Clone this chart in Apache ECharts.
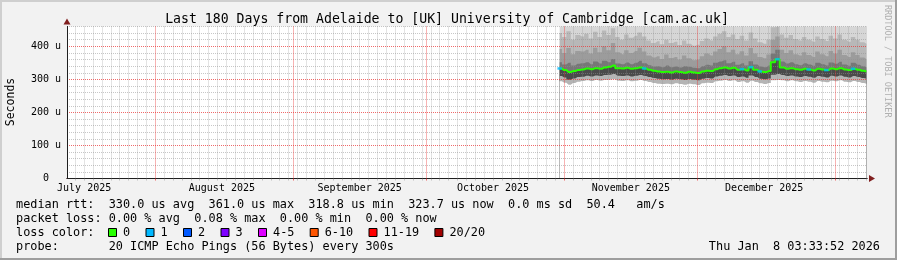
<!DOCTYPE html>
<html><head><meta charset="utf-8">
<script src="https://cdn.jsdelivr.net/npm/echarts@6/dist/echarts.min.js"></script>
<style>html,body{margin:0;padding:0;background:#f2f2f2}#c{width:897px;height:260px}</style>
</head><body><div id="c"></div>
<script>
// ---- axis / tick data (x in days since 2025-07-01 00:00) ----
const axisMin = 11.1485;   // Jul 12 2025 03:33:52
const axisMax = 191.1485;  // Jan 8 2026 03:33:52
const monthStarts = [31, 62, 92, 123, 153, 184];
const monthMids = [15, 46, 77, 107, 138, 168];
const monthLabels = ['July 2025', 'August 2025', 'September 2025', 'October 2025', 'November 2025', 'December 2025'];
const yTicks = [0, 100, 200, 300, 400];
const yTickLabels = ['0  ', '100 u', '200 u', '300 u', '400 u'];
const firstDay = 122; // Oct 31 2025, first day with data

// ---- series values (microseconds), one per day ----
const median = [333,328,322,325,328,330,333,331,334,332,336,338,342,334,333,335,332,334,336,333,
                329,326,324,322,323,321,324,322,320,323,321,319,324,326,325,331,334,336,333,335,
                329,331,327,337,329,324,322,325,352,361,336,332,334,331,329,332,330,327,332,330,
                328,333,331,334,330,328,332,329,326,323.7];
const loss = [1,0,0,0,0,0,0,0,0,0,0,0,0,0,0,0,0,0,0,1,
              0,0,0,0,0,0,0,0,0,0,0,0,0,0,0,0,0,0,0,0,
              0,1,0,1,0,1,0,0,0,1,0,0,0,0,0,0,1,0,0,0,
              1,0,0,0,0,0,1,0,0,0];
const smokeMin = [294,290,284,289,293,295,297,295,298,296,298,299,300,296,295,297,294,296,298,295,
                  292,289,287,286,287,285,288,286,284,287,285,283,288,290,289,294,296,298,295,297,
                  292,294,290,296,292,288,286,289,297,298,297,294,297,294,292,295,293,290,295,293,
                  291,296,294,297,293,291,295,292,289,287];
const smokeLow = [310,306,299,303,307,308,311,309,312,310,313,314,316,311,310,312,309,311,313,310,
                  307,304,302,300,301,299,302,300,298,301,299,297,302,304,303,309,311,313,310,312,
                  307,309,305,312,307,302,300,303,314,316,313,310,312,309,307,310,308,305,310,308,
                  306,311,309,312,308,306,310,307,304,302];
const smokeQ3 = [352,345,350,342,347,349,352,346,354,348,356,352,362,348,346,351,346,350,356,349,
                 343,339,340,337,342,337,339,336,340,338,335,334,340,344,342,350,354,358,349,353,
                 344,349,342,355,345,339,337,342,378,390,354,348,352,346,343,349,345,341,350,346,
                 342,351,347,353,345,341,350,344,340,337];
const smokeQ6 = [392,380,395,376,386,384,390,378,396,382,400,388,410,382,376,388,380,386,396,384,
                 372,366,370,362,375,365,368,360,372,364,358,360,370,378,372,384,392,400,382,390,
                 376,385,372,395,378,368,364,375,420,430,390,380,388,376,372,382,374,368,384,376,
                 370,386,378,390,374,368,382,374,366,362];
const smokeQ9 = [440,428,446,420,434,430,438,424,444,428,448,434,455,428,420,436,426,432,442,430,
                 418,410,415,406,420,410,414,404,418,408,402,405,416,424,418,430,438,446,428,436,
                 422,432,418,442,424,412,408,420,458,460,436,426,434,422,418,428,420,414,430,422,
                 416,432,424,436,420,414,428,420,412,408];
const smokeMax = [480,470,490,465,475,470,485,466,488,472,495,478,500,470,465,480,468,474,486,472,
                  464,462,466,461,466,462,468,463,464,465,462,463,466,470,464,476,484,492,472,480,
                  466,476,468,488,470,462,464,466,510,520,482,470,478,466,462,474,464,468,476,466,
                  465,478,468,482,464,462,474,466,463,461];

const lossLevels = ['0', '1', '2', '3', '4-5', '6-10', '11-19', '20/20'];
const lossColors = ['#26ff00', '#00b8ff', '#0059ff', '#7e00ff', '#dd00ff', '#ff5500', '#ff0000', '#a10000'];
function lossColor(n) {
  if (n <= 0) return lossColors[0];
  if (n <= 3) return lossColors[n];
  if (n <= 5) return lossColors[4];
  if (n <= 10) return lossColors[5];
  if (n <= 19) return lossColors[6];
  return lossColors[7];
}

// minor vertical grid: every 2 days at midnight (skipping month starts, which get the major grid)
const minorDays = [];
for (let d = 13; d <= axisMax; d += 2) if (monthStarts.indexOf(d) < 0) minorDays.push(d);

const xs = median.map((_, i) => firstDay + i);
const pts = arr => arr.map((v, i) => [xs[i], v]);

const MONO = '"DejaVu Sans Mono", monospace';
const GRID = 'rgba(143,143,143,0.5)';
const MGRID = 'rgba(235,55,55,0.75)';

function band(data, color, z) {
  return {
    type: 'line', data: pts(data), step: 'middle', showSymbol: false, silent: true,
    lineStyle: { width: 0 }, areaStyle: { color: color, opacity: 1 }, z: z, animation: false
  };
}

const lossPts = [];
loss.forEach((n, i) => { if (n > 0) lossPts.push({ value: [xs[i], median[i]], itemStyle: { color: lossColor(n) } }); });

const chart = echarts.init(document.getElementById('c'), null, { renderer: 'canvas' });

const textEls = [];
function txt(t, x, y, size, opts) {
  textEls.push(Object.assign({
    type: 'text', silent: true, z: 100,
    style: Object.assign({ text: t, x: x, y: y, font: size + 'px ' + MONO, fill: '#000',
      textAlign: 'left', textVerticalAlign: 'middle', align: 'left', verticalAlign: 'middle' }, opts || {})
  }));
}
const legendSize = 11.85;
txt('Last 180 Days from Adelaide to [UK] University of Cambridge [cam.ac.uk]', 447, 19.5, 13.2,
    { textAlign: 'center', align: 'center' });
txt('median rtt:  330.0 us avg  361.0 us max  318.8 us min  323.7 us now  0.0 ms sd  50.4   am/s', 16, 204.5, legendSize);
txt('packet loss: 0.00 % avg  0.08 % max  0.00 % min  0.00 % now', 16, 218.5, legendSize);
txt('loss color:', 16, 232.5, legendSize);
txt('probe:       20 ICMP Echo Pings (56 Bytes) every 300s', 16, 246.5, legendSize);
txt('Thu Jan  8 03:33:52 2026', 880, 246.5, legendSize, { textAlign: 'right', align: 'right' });

// loss colour boxes
let bx = 108;
lossLevels.forEach((lab, i) => {
  textEls.push({ type: 'rect', silent: true, z: 100, shape: { x: bx + 0.5, y: 228.5, width: 8, height: 8 },
    style: { fill: lossColors[i], stroke: '#000', lineWidth: 1 } });
  txt(lab, bx + 15, 232.5, legendSize);
  bx += 30.4 + 7.1 * lab.length;
});

textEls.push({ type: 'text', silent: true, z: 100, x: 11, y: 102, rotation: Math.PI / 2,
  style: { text: 'Seconds', font: '11.5px ' + MONO, fill: '#000', textAlign: 'center', textVerticalAlign: 'middle', align: 'center', verticalAlign: 'middle' } });
textEls.push({ type: 'text', silent: true, z: 100, x: 887, y: 5, rotation: -Math.PI / 2,
  style: { text: 'RRDTOOL / TOBI OETIKER', font: '8.5px ' + MONO, fill: '#b0b0b0', textAlign: 'left', textVerticalAlign: 'middle', align: 'left', verticalAlign: 'middle' } });

// 3D border
const borders = [
  { type: 'rect', silent: true, z: 50, shape: { x: 0, y: 0, width: 897, height: 2 }, style: { fill: '#cfcfcf' } },
  { type: 'rect', silent: true, z: 50, shape: { x: 0, y: 0, width: 2, height: 260 }, style: { fill: '#cfcfcf' } },
  { type: 'rect', silent: true, z: 51, shape: { x: 0, y: 258, width: 897, height: 2 }, style: { fill: '#9e9e9e' } },
  { type: 'rect', silent: true, z: 51, shape: { x: 895, y: 0, width: 2, height: 260 }, style: { fill: '#9e9e9e' } }
];

const option = {
  animation: false,
  backgroundColor: '#f2f2f2',
  grid: { left: 67, right: 30, top: 26.5, bottom: 81.5, show: true, backgroundColor: '#ffffff', borderWidth: 0 },
  xAxis: [
    { // black axis line, minor grid
      type: 'value', min: axisMin, max: axisMax, z: 8,
      axisLine: { show: true, lineStyle: { color: '#1f1f1f', width: 1 } },
      axisTick: { show: true, customValues: minorDays, length: 2, lineStyle: { color: GRID } },
      axisLabel: { show: false },
      splitLine: { show: true, lineStyle: { color: GRID, width: 1, type: [1, 1] } }
    },
    { // arrow (dark red), month labels
      type: 'value', min: axisMin, max: axisMax, z: 7, position: 'bottom',
      axisLine: { show: true, symbol: ['none', 'triangle'], symbolSize: [7, 6], symbolOffset: [0, 5],
        lineStyle: { color: '#801f1f', width: 1 } },
      axisTick: { show: false }, splitLine: { show: false },
      axisLabel: { show: true, customValues: monthMids, margin: 5, color: '#000', fontFamily: 'DejaVu Sans Mono', fontSize: 10,
        formatter: v => monthLabels[monthMids.indexOf(v)] || '' }
    },
    { // major grid at month starts
      type: 'value', min: axisMin, max: axisMax, z: 9, position: 'bottom',
      axisLine: { show: false },
      axisTick: { show: true, customValues: monthStarts, length: 2, lineStyle: { color: MGRID } },
      axisLabel: { show: false },
      splitLine: { show: true, lineStyle: { color: MGRID, width: 1, type: [1, 1] } }
    }
  ],
  yAxis: [
    {
      type: 'value', min: 0, max: 460, interval: 20, z: 8, position: 'left',
      axisLine: { show: true, lineStyle: { color: '#1f1f1f', width: 1 } },
      axisTick: { show: false },
      axisLabel: { show: true, customValues: yTicks, margin: 6, color: '#000', fontFamily: 'DejaVu Sans Mono', fontSize: 10,
        formatter: v => yTickLabels[yTicks.indexOf(v)] || '' },
      splitLine: { show: true, lineStyle: { color: [MGRID, GRID, GRID, GRID, GRID], width: 1, type: [1, 1] } }
    },
    {
      type: 'value', min: 0, max: 460, z: 7, position: 'left', offset: 0,
      axisLine: { show: true, onZero: false, symbol: ['none', 'triangle'], symbolSize: [7, 6], symbolOffset: [0, 5],
        lineStyle: { color: '#801f1f', width: 1 } },
      axisTick: { show: false }, axisLabel: { show: false }, splitLine: { show: false }
    }
  ],
  series: [
    band(smokeMax, '#d6d6d6', 2),
    band(smokeQ9, '#b8b8b8', 2),
    band(smokeQ6, '#9c9c9c', 2),
    band(smokeQ3, '#777777', 2),
    band(median, '#4a4a4a', 2),
    band(smokeLow, '#b4b4b4', 2),
    band(smokeMin, '#ffffff', 2),
    {
      type: 'line', data: pts(median), step: 'middle', showSymbol: false, silent: true, z: 10,
      lineStyle: { color: lossColors[0], width: 2 }
    },
    {
      type: 'scatter', data: lossPts, symbol: 'rect', symbolSize: [4.5, 2.5], silent: true, z: 11
    }
  ],
  graphic: { elements: borders.concat(textEls) }
};
chart.setOption(option);
</script>
</body></html>
